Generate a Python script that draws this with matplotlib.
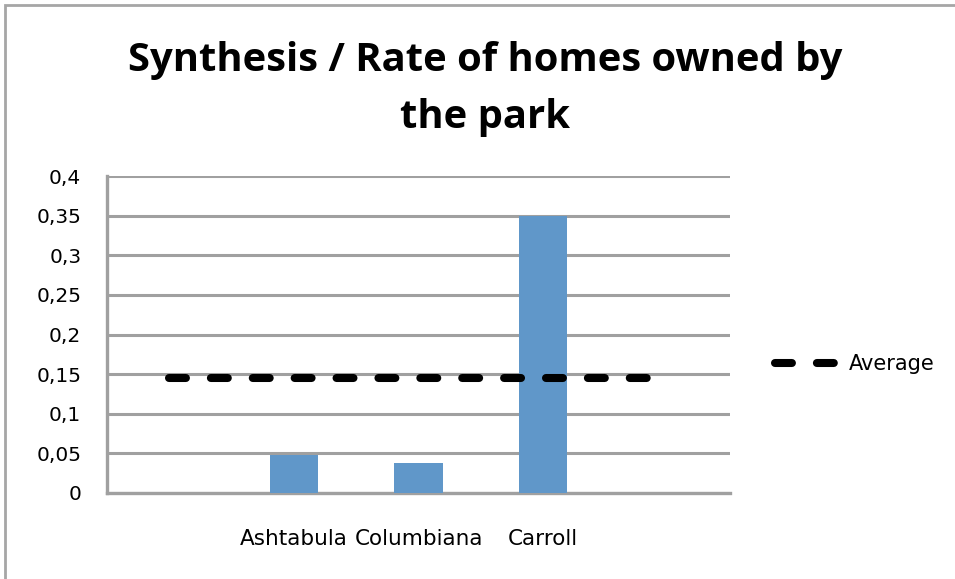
import matplotlib
matplotlib.use("Agg")
import matplotlib.pyplot as plt
from matplotlib.patches import Rectangle
from matplotlib.ticker import FixedLocator, FuncFormatter

# Categories (the outer two slots are unnamed, as in the workbook layout)
categories = ["", "Ashtabula", "Columbiana", "Carroll", ""]
rates = [0.0, 0.048, 0.038, 0.35, 0.0]
named = [1, 2, 3]
average_value = sum(rates[i] for i in named) / len(named)
average = [average_value] * len(categories)
yticks = [0, 0.05, 0.1, 0.15, 0.2, 0.25, 0.3, 0.35, 0.4]

W, H = 955, 579
fig = plt.figure(figsize=(W / 100, H / 100), dpi=100)
fig.patch.set_facecolor("white")

# chart-area frame
fig.patches.append(Rectangle((5 / W, -0.1), 1.2, 1 - 5 / H + 0.1,
                             transform=fig.transFigure, fill=False,
                             edgecolor="#a6a6a6", linewidth=2.0))

ax = fig.add_axes([107 / W, 1 - 493 / H, (730 - 107) / W, (493 - 176) / H])
x = list(range(len(categories)))

ax.bar([x[i] for i in named], [rates[i] for i in named], width=0.39,
       color="#6097C9", zorder=3)
line, = ax.plot(x, average, color="black", linewidth=5.8,
                linestyle=(0, (2.1, 3.1)), dash_capstyle="round",
                zorder=4, label="Average")

ax.set_xlim(-0.5, 4.5)
ax.set_ylim(0, 0.4)
ax.yaxis.set_major_locator(FixedLocator(yticks))
ax.yaxis.set_major_formatter(FuncFormatter(lambda v, p: f"{v:g}".replace(".", ",")))
ax.set_xticks(x)
ax.set_xticklabels(categories, fontsize=15.5)

ax.grid(axis="y", color="#a0a0a0", linewidth=2.2, zorder=0)
ax.set_axisbelow(True)
for s in ["top", "right"]:
    ax.spines[s].set_visible(False)
for s in ["left", "bottom"]:
    ax.spines[s].set_color("#a0a0a0")
    ax.spines[s].set_linewidth(2.4)

ax.tick_params(axis="both", length=0, colors="black")
ax.tick_params(axis="y", pad=18.5, labelsize=14.5)
ax.tick_params(axis="x", pad=26)

fig.text(0.508, 1 - 89 / H, "Synthesis / Rate of homes owned by\nthe park",
         ha="center", va="center", fontsize=28.8, fontweight="bold",
         family="Open Sans", linespacing=1.6)

fig.legend(handles=[line], labels=["Average"], loc="center left",
           bbox_to_anchor=(756 / W, 1 - 364 / H), frameon=False,
           fontsize=15, handlelength=3.0, handletextpad=0.55)

fig.savefig("out.png", dpi=100, facecolor="white")
